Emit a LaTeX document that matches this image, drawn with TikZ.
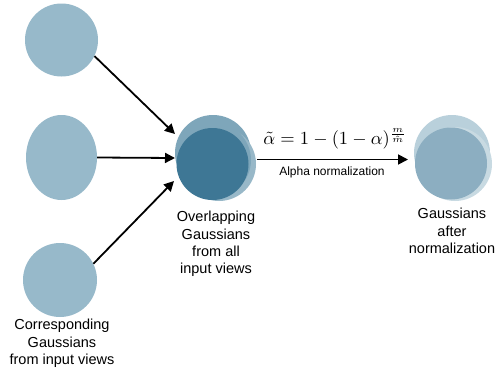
\documentclass[tikz,border=0pt]{standalone}
\usepackage{fontspec}
\setmainfont{Liberation Sans}
\usetikzlibrary{shapes.geometric,arrows.meta}
\definecolor{lc}{HTML}{97B9CA}
\definecolor{dk}{HTML}{3E7795}
\definecolor{mla}{HTML}{7EA6BA}
\definecolor{mlb}{HTML}{98B8C8}
\definecolor{rin}{HTML}{8CAEC1}
\definecolor{rla}{HTML}{B9D0DB}
\definecolor{rlb}{HTML}{C8DAE2}
\tikzset{
  gauss/.style={circle,inner sep=0pt,minimum size=#1},
  arr/.style={line width=1.8pt,-{Triangle[length=10pt,width=10pt]}},
  lbl/.style={align=center,font=\fontsize{14.5}{17.3}\selectfont,inner sep=0pt},
}
\begin{document}
\begin{tikzpicture}[x=1pt,y=-1pt]
\useasboundingbox (0,0) rectangle (496,370);
% left circles
\node[gauss=73pt,fill=lc] (t) at (61.5,40) {};
\node[ellipse,inner sep=0pt,minimum width=71pt,minimum height=85pt,fill=lc] (m) at (61.5,157.5) {};
\node[gauss=74pt,fill=lc] (b) at (60,280) {};
% overlapping cluster
\node[gauss=76pt,fill=mla] (ova) at (213,153) {};
\node[gauss=74pt,fill=mlb] (ovb) at (219,164) {};
\node[gauss=74pt,fill=mla] (ovc) at (214,160) {};
\node[gauss=72pt,fill=dk] (ov) at (212.5,164) {};
% right cluster
\node[gauss=76pt,fill=rla] (ra) at (452,153) {};
\node[gauss=74pt,fill=rlb] (rb) at (455,164) {};
\node[gauss=72pt,fill=rin] (rc) at (451,163.5) {};
% arrow tips at the cluster
\coordinate (in1) at (175,134);
\coordinate (in2) at (175,158);
\coordinate (in3) at (174,181);
\coordinate (outs) at (257,159.5);
\coordinate (oute) at (408,159.5);
\draw[arr] (t.-26) -- (in1);
\draw[arr] (m.east) -- (in2);
\draw[arr] (b.26) -- (in3);
\draw[arr] (outs) -- (oute);
% texts
\node[inner sep=0pt] (eq) at (335,139) {\scalebox{1.85}{$\tilde{\alpha} = 1-(1-\alpha)^{\frac{m}{\hat{m}}}$}};
\node[inner sep=0pt,font=\fontsize{12}{14}\selectfont] (an) at (332,172) {Alpha normalization};
\node[lbl,anchor=north] (lb) at (62,319) {Corresponding\\Gaussians\\from input views};
\node[lbl,anchor=north] (lm) at (216,211) {Overlapping\\Gaussians\\from all\\input views};
\node[lbl,anchor=north] (lr) at (452,208) {Gaussians\\after\\normalization};
\end{tikzpicture}
\end{document}
